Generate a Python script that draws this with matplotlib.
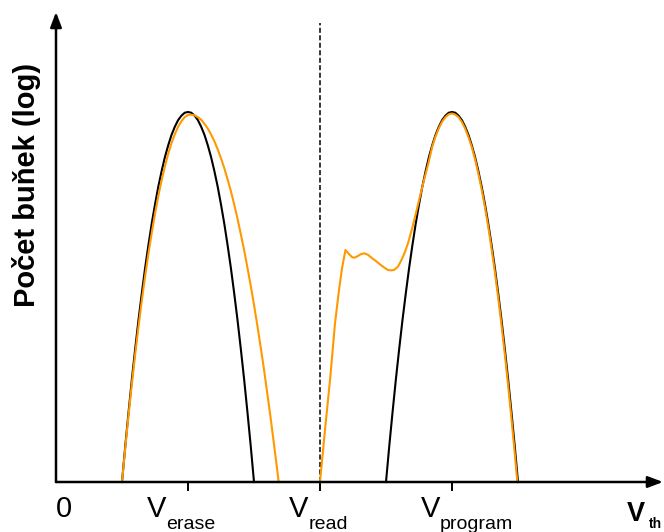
import matplotlib
matplotlib.use("Agg")
import matplotlib.pyplot as plt

# -- Data ----------------------------------------------------------------------
# x in units of the V ticks (erase = 1, read = 2, program = 3), y normalised (peak = 1)
erase_black_x = [0.500, 0.525, 0.550, 0.575, 0.600, 0.625, 0.650, 0.675, 0.700, 0.725,
                 0.750, 0.775, 0.800, 0.825, 0.850, 0.875, 0.900, 0.925, 0.950, 0.975,
                 1.000, 1.025, 1.050, 1.075, 1.100, 1.125, 1.150, 1.175, 1.200, 1.225,
                 1.250, 1.275, 1.300, 1.325, 1.350, 1.375, 1.400, 1.425, 1.450, 1.475,
                 1.500]
erase_black_y = [0.000, 0.098, 0.190, 0.278, 0.360, 0.438, 0.510, 0.578, 0.640, 0.698,
                 0.750, 0.798, 0.840, 0.878, 0.910, 0.938, 0.960, 0.978, 0.990, 0.998,
                 1.000, 0.998, 0.990, 0.978, 0.960, 0.938, 0.910, 0.878, 0.840, 0.798,
                 0.750, 0.698, 0.640, 0.578, 0.510, 0.438, 0.360, 0.278, 0.190, 0.098,
                 0.000]

erase_orange_x = [0.500, 0.525, 0.550, 0.575, 0.600, 0.625, 0.650, 0.675, 0.700, 0.725,
                  0.750, 0.775, 0.800, 0.825, 0.850, 0.875, 0.900, 0.925, 0.950, 0.975,
                  1.000, 1.020, 1.050, 1.075, 1.100, 1.125, 1.150, 1.175, 1.200, 1.225,
                  1.250, 1.275, 1.300, 1.325, 1.350, 1.375, 1.400, 1.425, 1.450, 1.475,
                  1.500, 1.525, 1.550, 1.575, 1.600, 1.625, 1.650, 1.675, 1.687]
erase_orange_y = [0.000, 0.093, 0.182, 0.266, 0.345, 0.420, 0.490, 0.556, 0.617, 0.673,
                  0.725, 0.773, 0.815, 0.853, 0.887, 0.916, 0.940, 0.960, 0.975, 0.986,
                  0.992, 0.993, 0.991, 0.986, 0.979, 0.968, 0.955, 0.939, 0.921, 0.899,
                  0.875, 0.848, 0.818, 0.786, 0.750, 0.712, 0.670, 0.627, 0.580, 0.531,
                  0.479, 0.424, 0.366, 0.306, 0.241, 0.176, 0.106, 0.035, 0.000]

prog_black_x = [2.500, 2.525, 2.550, 2.575, 2.600, 2.625, 2.650, 2.675, 2.700, 2.725,
                2.750, 2.775, 2.800, 2.825, 2.850, 2.875, 2.900, 2.925, 2.950, 2.975,
                3.000, 3.025, 3.050, 3.075, 3.100, 3.125, 3.150, 3.175, 3.200, 3.225,
                3.250, 3.275, 3.300, 3.325, 3.350, 3.375, 3.400, 3.425, 3.450, 3.475,
                3.500]
prog_black_y = [0.000, 0.098, 0.190, 0.278, 0.360, 0.438, 0.510, 0.578, 0.640, 0.698,
                0.750, 0.798, 0.840, 0.878, 0.910, 0.938, 0.960, 0.978, 0.990, 0.998,
                1.000, 0.998, 0.990, 0.978, 0.960, 0.938, 0.910, 0.878, 0.840, 0.798,
                0.750, 0.698, 0.640, 0.578, 0.510, 0.438, 0.360, 0.278, 0.190, 0.098,
                0.000]

prog_orange_x = [2.000, 2.038, 2.076, 2.114, 2.144, 2.167, 2.193, 2.220, 2.242, 2.261,
                 2.288, 2.311, 2.336, 2.364, 2.394, 2.424, 2.455, 2.485, 2.515, 2.538,
                 2.561, 2.591, 2.621, 2.644, 2.667, 2.697, 2.727, 2.758, 2.788, 2.818,
                 2.850, 2.875, 2.900, 2.925, 2.950, 2.975, 3.000, 3.025, 3.050, 3.075,
                 3.100, 3.125, 3.150, 3.175, 3.200, 3.225, 3.250, 3.275, 3.300, 3.325,
                 3.350, 3.375, 3.400, 3.425, 3.450, 3.475, 3.495]
prog_orange_y = [0.000, 0.141, 0.276, 0.430, 0.519, 0.578, 0.627, 0.616, 0.608, 0.606,
                 0.611, 0.616, 0.618, 0.614, 0.605, 0.597, 0.588, 0.580, 0.573, 0.572,
                 0.573, 0.582, 0.603, 0.622, 0.646, 0.684, 0.727, 0.773, 0.816, 0.857,
                 0.906, 0.934, 0.956, 0.974, 0.986, 0.994, 0.996, 0.993, 0.986, 0.973,
                 0.955, 0.932, 0.905, 0.872, 0.833, 0.790, 0.742, 0.689, 0.630, 0.567,
                 0.498, 0.424, 0.346, 0.262, 0.173, 0.079, 0.000]

tick_pos = [1, 2, 3]
v_read = 2
y_label = "Počet buňek (log)"

# -- Figure --------------------------------------------------------------------
W, H = 664, 532
plt.rcParams['font.family'] = ['Liberation Sans', 'DejaVu Sans']
fig = plt.figure(figsize=(W / 100, H / 100), dpi=100)

x0, y0, x1, y1 = 56, 482, 663, 12      # axes corners in pixels
ax = fig.add_axes([x0 / W, 1 - y0 / H, (x1 - x0) / W, (y0 - y1) / H])
xmax = (x1 - x0) / 132
ymax = (y0 - y1) / 370
ax.set_xlim(0, xmax)
ax.set_ylim(0, ymax)

for s in ax.spines.values():
    s.set_visible(False)

# axes with arrows
arr = dict(arrowstyle='-|>,head_length=0.45,head_width=0.17', lw=1.8, color='k',
           shrinkA=0, shrinkB=0, mutation_scale=20)
ax.annotate("", xy=(xmax, 0), xytext=(0, 0), arrowprops=arr, annotation_clip=False)
ax.annotate("", xy=(0, ymax), xytext=(0, 0), arrowprops=arr, annotation_clip=False)

ax.set_xticks(tick_pos)
ax.set_xticklabels([])
ax.tick_params(axis='x', direction='out', length=6.5, width=1.4, color='k')
ax.set_yticks([])

ax.plot([v_read, v_read], [0, (y0 - 23) / 370], color='k', lw=1.1,
        ls=(0, (3.3, 1.6)))

ax.plot(erase_black_x, erase_black_y, color='k', lw=1.5, clip_on=False)
ax.plot(prog_black_x, prog_black_y, color='k', lw=1.5, clip_on=False)
ax.plot(erase_orange_x, erase_orange_y, color='#ff9900', lw=1.5, clip_on=False)
ax.plot(prog_orange_x, prog_orange_y, color='#ff9900', lw=1.5, clip_on=False)


def ptext(x, y, s, **kw):
    fig.text(x / W, 1 - y / H, s, va='baseline', ha='left', **kw)


ptext(56, 517.3, "0", fontsize=21)
ptext(146.7, 517.3, "V", fontsize=21)
ptext(166, 529.3, "erase", fontsize=14)
ptext(289, 517.3, "V", fontsize=21)
ptext(309, 529.3, "read", fontsize=14)
ptext(420.6, 517.3, "V", fontsize=21)
ptext(440, 529.3, "program", fontsize=14)
ptext(627, 521, "V", fontsize=19.5, fontweight='bold')
ptext(649, 528.5, "th", fontsize=10, fontweight='bold')

fig.text(27 / W, 1 - 184.5 / H, y_label, rotation=90, ha='center', va='center',
         fontsize=21, fontweight='bold')

fig.savefig("out.png", dpi=100)
